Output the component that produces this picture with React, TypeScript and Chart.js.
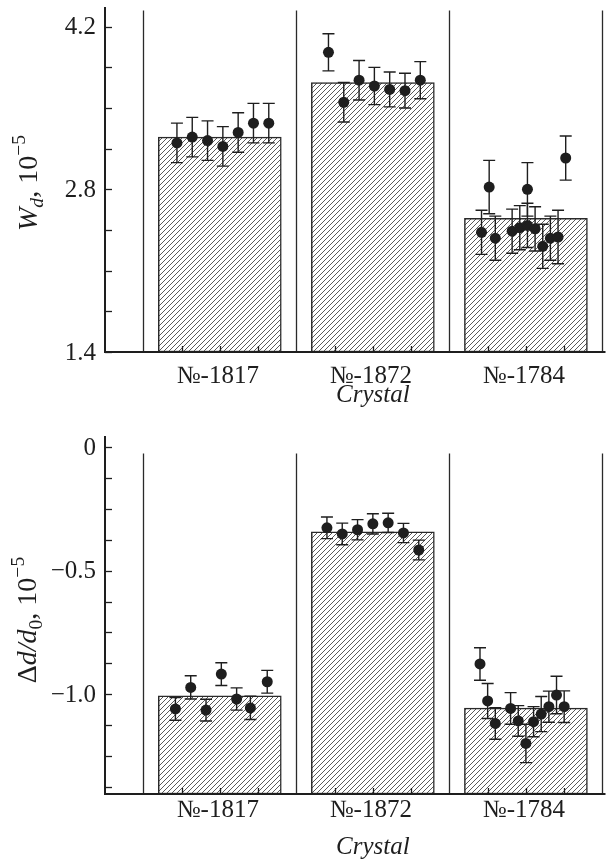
import React, { useEffect, useRef } from 'react';
import { Chart, registerables } from 'chart.js';

Chart.register(...registerables);

const FONT = '"Liberation Serif", "Times New Roman", serif';
const INK = '#1e1e1e';

// Crystal categories on a numeric x axis (one unit per crystal)
const crystalLabels = ['№-1817', '№-1872', '№-1784'];
const crystalSlots = [1, 2, 3];
const crystalBoundaries = [0.5, 1.5, 2.5, 3.5];
const xInnerTicks = [0.75, 1, 1.25, 1.75, 2, 2.25, 2.75, 3, 3.25];

// Upper panel: W_d, 10^-5
const wdMeans = [3.25, 3.72, 2.55];
const wdSampleX = [
  0.72, 0.82, 0.92, 1.02, 1.12, 1.22, 1.32,
  1.71, 1.81, 1.91, 2.01, 2.11, 2.21, 2.31,
  2.71, 2.76, 2.8, 2.91, 2.96, 3.01, 3.01, 3.06, 3.11, 3.16, 3.21, 3.26,
];
const wdSampleY = [
  3.2, 3.25, 3.22, 3.17, 3.29, 3.37, 3.37,
  3.98, 3.55, 3.74, 3.69, 3.66, 3.65, 3.74,
  2.43, 2.82, 2.38, 2.44, 2.47, 2.8, 2.49, 2.46, 2.31, 2.38, 2.39, 3.07,
];
const wdSampleErr = [
  0.17, 0.17, 0.17, 0.17, 0.17, 0.17, 0.17,
  0.16, 0.17, 0.17, 0.16, 0.15, 0.15, 0.16,
  0.19, 0.23, 0.19, 0.19, 0.19, 0.23, 0.19, 0.19, 0.19, 0.19, 0.23, 0.19,
];
const wdTicks = [1.4, 1.75, 2.1, 2.45, 2.8, 3.15, 3.5, 3.85, 4.2];
const wdTickLabels = ['1.4', '', '', '', '2.8', '', '', '', '4.2'];

// Lower panel: Δd/d0, 10^-5
const ddMeans = [-1.007, -0.342, -1.057];
const ddSampleX = [
  0.71, 0.81, 0.91, 1.01, 1.11, 1.2, 1.31,
  1.7, 1.8, 1.9, 2.0, 2.1, 2.2, 2.3,
  2.7, 2.75, 2.8, 2.9, 2.95, 3.0, 3.05, 3.1, 3.15, 3.2, 3.25,
];
const ddSampleY = [
  -1.06, -0.973, -1.065, -0.919, -1.02, -1.056, -0.95,
  -0.326, -0.351, -0.334, -0.31, -0.306, -0.347, -0.416,
  -0.878, -1.028, -1.119, -1.058, -1.109, -1.2, -1.112, -1.081, -1.051, -1.004, -1.051,
];
const ddSampleErr = [
  0.046, 0.047, 0.044, 0.046, 0.045, 0.047, 0.046,
  0.044, 0.044, 0.041, 0.041, 0.039, 0.039, 0.04,
  0.066, 0.071, 0.064, 0.064, 0.062, 0.078, 0.061, 0.071, 0.063, 0.076, 0.064,
];
const ddTicks = [0, -0.125, -0.25, -0.375, -0.5, -0.625, -0.75, -0.875, -1.0, -1.125, -1.25, -1.375];
const ddTickLabels = ['0', '', '', '', '−0.5', '', '', '', '−1.0', '', '', ''];

type Run = { text: string; italic?: boolean; scale?: number; shift?: number };

const wdTitle: Run[] = [
  { text: 'W', italic: true },
  { text: 'd', italic: true, scale: 0.7, shift: 0.2 },
  { text: ', 10' },
  { text: '−5', scale: 0.7, shift: -0.42 },
];
const ddTitle: Run[] = [
  { text: 'Δ' },
  { text: 'd', italic: true },
  { text: '/', italic: true },
  { text: 'd', italic: true },
  { text: '0', scale: 0.7, shift: 0.2 },
  { text: ', 10' },
  { text: '−5', scale: 0.7, shift: -0.42 },
];

type Panel = {
  height: number;
  areaTop: number;
  areaBottom: number;
  yMin: number;
  yMax: number;
  separatorTop: number;
  ticks: number[];
  tickLabels: string[];
  means: number[];
  sx: number[];
  sy: number[];
  se: number[];
  title: Run[];
  titleX: number;
  titleY: number;
  labelOffset: number;
  crystalOffset: number;
};

const panels: Panel[] = [
  {
    height: 420, areaTop: 7, areaBottom: 352, yMin: 1.4, yMax: 4.37, separatorTop: 4.34,
    ticks: wdTicks, tickLabels: wdTickLabels, means: wdMeans,
    sx: wdSampleX, sy: wdSampleY, se: wdSampleErr,
    title: wdTitle, titleX: 37, titleY: 183, labelOffset: 31, crystalOffset: 50,
  },
  {
    height: 443, areaTop: 16, areaBottom: 374, yMin: -1.405, yMax: 0.046, separatorTop: -0.025,
    ticks: ddTicks, tickLabels: ddTickLabels, means: ddMeans,
    sx: ddSampleX, sy: ddSampleY, se: ddSampleErr,
    title: ddTitle, titleX: 36, titleY: 200, labelOffset: 23, crystalOffset: 60,
  },
];

function hatch(ctx: CanvasRenderingContext2D): CanvasPattern | string {
  const s = 5;
  const c = document.createElement('canvas');
  c.width = s;
  c.height = s;
  const g = c.getContext('2d');
  if (!g) return '#fff';
  g.fillStyle = '#ffffff';
  g.fillRect(0, 0, s, s);
  g.strokeStyle = '#3c3c3c';
  g.lineWidth = 0.85;
  g.beginPath();
  g.moveTo(-1, s + 1);
  g.lineTo(s + 1, -1);
  g.moveTo(-1, 1);
  g.lineTo(1, -1);
  g.moveTo(s - 1, s + 1);
  g.lineTo(s + 1, s - 1);
  g.stroke();
  return ctx.createPattern(c, 'repeat') || '#fff';
}

function drawRuns(ctx: CanvasRenderingContext2D, runs: Run[], cx: number, cy: number, size: number) {
  ctx.save();
  ctx.translate(cx, cy);
  ctx.rotate(-Math.PI / 2);
  ctx.fillStyle = INK;
  ctx.textBaseline = 'alphabetic';
  ctx.textAlign = 'left';
  const fontOf = (r: Run) => `${r.italic ? 'italic ' : ''}${size * (r.scale || 1)}px ${FONT}`;
  let total = 0;
  const widths = runs.map((r) => {
    ctx.font = fontOf(r);
    const w = ctx.measureText(r.text).width;
    total += w;
    return w;
  });
  let x = -total / 2;
  runs.forEach((r, i) => {
    ctx.font = fontOf(r);
    ctx.fillText(r.text, x, (r.shift || 0) * size);
    x += widths[i];
  });
  ctx.restore();
}

function makePlugin(p: Panel) {
  return {
    id: 'crystalFrame',
    beforeDatasetsDraw(chart: any) {
      const { ctx, chartArea, scales } = chart;
      const xs = scales.x;
      const ys = scales.y;
      ctx.save();
      ctx.strokeStyle = '#2a2a2a';
      ctx.lineWidth = 1.3;
      const top = ys.getPixelForValue(p.separatorTop);
      crystalBoundaries.forEach((b) => {
        const x = Math.round(xs.getPixelForValue(b)) + 0.5;
        ctx.beginPath();
        ctx.moveTo(x, top);
        ctx.lineTo(x, chartArea.bottom);
        ctx.stroke();
      });
      ctx.restore();
    },
    beforeDatasetDraw(chart: any, args: any) {
      if (args.index !== 1) return;
      const { ctx, scales } = chart;
      const xs = scales.x;
      const ys = scales.y;
      ctx.save();
      ctx.strokeStyle = INK;
      ctx.lineWidth = 1.4;
      p.sx.forEach((xv, i) => {
        const x = xs.getPixelForValue(xv);
        const y1 = ys.getPixelForValue(p.sy[i] + p.se[i]);
        const y2 = ys.getPixelForValue(p.sy[i] - p.se[i]);
        ctx.beginPath();
        ctx.moveTo(x, y1);
        ctx.lineTo(x, y2);
        ctx.moveTo(x - 6, y1);
        ctx.lineTo(x + 6, y1);
        ctx.moveTo(x - 6, y2);
        ctx.lineTo(x + 6, y2);
        ctx.stroke();
      });
      ctx.restore();
    },
    afterDraw(chart: any) {
      const { ctx, chartArea, scales } = chart;
      const xs = scales.x;
      const ys = scales.y;
      const L = chartArea.left;
      const B = chartArea.bottom;
      ctx.save();
      ctx.strokeStyle = INK;
      // inner tick marks
      ctx.lineWidth = 1.3;
      p.ticks.forEach((v) => {
        const y = Math.round(ys.getPixelForValue(v)) + 0.5;
        ctx.beginPath();
        ctx.moveTo(L, y);
        ctx.lineTo(L + 7, y);
        ctx.stroke();
      });
      xInnerTicks.forEach((v) => {
        const x = Math.round(xs.getPixelForValue(v)) + 0.5;
        ctx.beginPath();
        ctx.moveTo(x, B);
        ctx.lineTo(x, B - 6);
        ctx.stroke();
      });
      // axis lines
      ctx.lineWidth = 2;
      ctx.beginPath();
      ctx.moveTo(L, chartArea.top);
      ctx.lineTo(L, B + 1);
      ctx.moveTo(L - 1, B);
      ctx.lineTo(chartArea.right, B);
      ctx.stroke();

      // tick labels
      ctx.fillStyle = INK;
      ctx.font = `25px ${FONT}`;
      ctx.textAlign = 'right';
      ctx.textBaseline = 'middle';
      p.ticks.forEach((v, i) => {
        if (!p.tickLabels[i]) return;
        ctx.fillText(p.tickLabels[i], L - 9, ys.getPixelForValue(v) + 1);
      });
      ctx.textAlign = 'center';
      ctx.textBaseline = 'alphabetic';
      ctx.font = `25px ${FONT}`;
      crystalSlots.forEach((v, i) => {
        ctx.fillText(crystalLabels[i], xs.getPixelForValue(v) - 2, B + p.labelOffset);
      });
      ctx.font = `italic 25px ${FONT}`;
      ctx.fillText('Crystal', xs.getPixelForValue(2), B + p.crystalOffset);
      ctx.restore();

      drawRuns(ctx, p.title, p.titleX, p.titleY, 28);
    },
  };
}

function PanelChart({ p }: { p: Panel }) {
  const ref = useRef<HTMLCanvasElement | null>(null);
  useEffect(() => {
    const canvas = ref.current;
    if (!canvas) return;
    const ctx = canvas.getContext('2d');
    if (!ctx) return;
    const chart = new Chart(ctx, {
      type: 'bar',
      data: {
        datasets: [
          {
            type: 'bar',
            data: crystalSlots.map((x, i) => ({ x, y: p.means[i] })),
            base: p.yMin,
            backgroundColor: hatch(ctx),
            borderColor: '#2a2a2a',
            borderWidth: 1.5,
            borderSkipped: false,
            barThickness: 123,
            order: 2,
          } as any,
          {
            type: 'scatter',
            data: p.sx.map((x, i) => ({ x, y: p.sy[i] })),
            pointRadius: 5.5,
            pointBackgroundColor: INK,
            pointBorderWidth: 0,
            order: 1,
          } as any,
        ],
      },
      options: {
        animation: false,
        responsive: false,
        events: [],
        layout: { padding: { top: p.areaTop, left: 0, right: 0, bottom: 0 } },
        plugins: { legend: { display: false }, tooltip: { enabled: false } },
        scales: {
          x: {
            type: 'linear',
            min: 0.25,
            max: 3.52,
            offset: false,
            grid: { display: false },
            border: { display: false },
            ticks: { display: false },
            afterFit: (s: any) => {
              s.height = p.height - p.areaBottom;
            },
          },
          y: {
            type: 'linear',
            min: p.yMin,
            max: p.yMax,
            grid: { display: false },
            border: { display: false },
            ticks: { display: false },
            afterFit: (s: any) => {
              s.width = 105;
            },
          },
        },
      } as any,
      plugins: [makePlugin(p)],
    });
    return () => chart.destroy();
  }, [p]);
  return <canvas ref={ref} width={611} height={p.height} style={{ display: 'block' }} />;
}

export default function App() {
  return (
    <div style={{ position: 'absolute', left: 0, top: 0, width: 611, height: 863, background: '#fff' }}>
      {panels.map((p, i) => (
        <PanelChart key={i} p={p} />
      ))}
    </div>
  );
}
